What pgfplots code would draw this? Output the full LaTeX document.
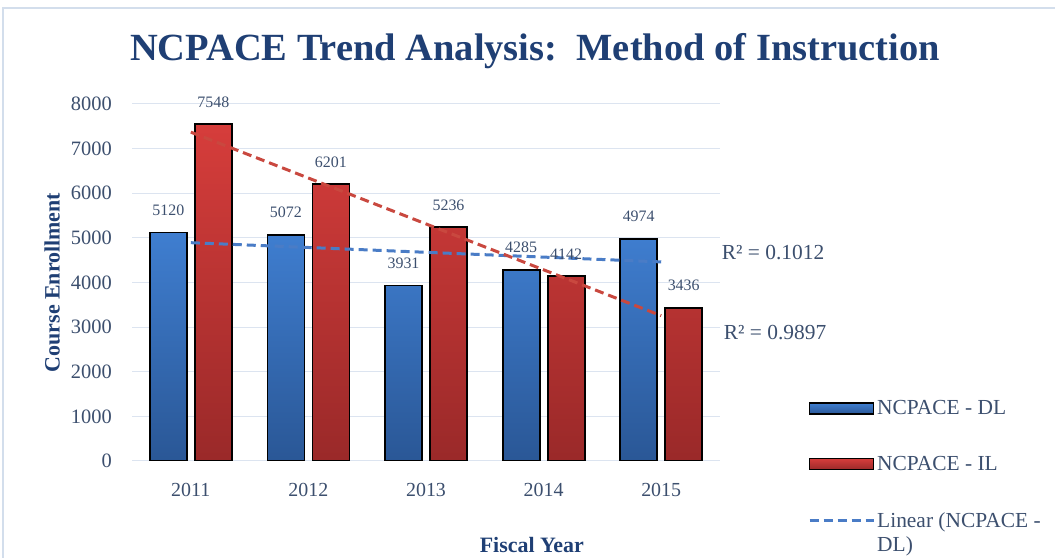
\documentclass[border=0pt]{standalone}
\usepackage{pgfplots}
\pgfplotsset{compat=1.18}
\usepackage{fontspec}
\setmainfont{Liberation Serif}
\definecolor{dlblue}{HTML}{3F7ED0}
\definecolor{dlbluedark}{HTML}{2A5796}
\definecolor{ilred}{HTML}{D63D3B}
\definecolor{ilreddark}{HTML}{9A2929}
\definecolor{trendblue}{HTML}{4A7CC6}
\definecolor{trendred}{HTML}{C9483F}
\definecolor{titlenavy}{HTML}{1F3F74}
\definecolor{labelgray}{HTML}{3C4F6E}
\definecolor{gridblue}{HTML}{DCE4F0}
\definecolor{framecol}{HTML}{D3DEEC}
\pgfplotsset{
  barlegend/.style={legend image code/.code={%
    \draw[draw=black, line width=1.3bp, fill=#1] (0bp,-5.5bp) rectangle (64bp,5.5bp);}},
  linelegend/.style={legend image code/.code={\draw[##1] (0bp,0bp) -- (64bp,0bp);}},
}

\begin{document}
\begin{tikzpicture}[x=1bp,y=1bp]
\path[use as bounding box] (0,0) rectangle (1055,558);
\draw[framecol, line width=1.5bp] (3,0) -- (3,550) -- (1055,550);
\node[font=\fontsize{38.6}{40}\selectfont\bfseries, text=titlenavy] at (535,507)
  {NCPACE Trend Analysis:\ \ Method of Instruction};
\begin{axis}[
    at={(132bp,97bp)}, anchor=south west,
    width=588bp, height=357bp, scale only axis,
    xmin=-0.5, xmax=4.5, ymin=0, ymax=8000,
    bar width=37bp,
    xtick={0,...,4}, xticklabels={2011,2012,2013,2014,2015},
    ytick={0,1000,...,8000},
    axis line style={draw=none},
    tick style={draw=none},
    ymajorgrids, grid style={gridblue, line width=1bp},
    /pgf/number format/assume math mode=true,
    /pgf/number format/1000 sep={},
    yticklabel style={font=\fontsize{20.5}{21}\selectfont, text=labelgray, inner sep=0pt, xshift=-20bp},
    xticklabel style={font=\fontsize{20}{21}\selectfont, text=labelgray, inner sep=0pt, yshift=-22bp},
    ylabel={Course Enrollment},
    ylabel style={at={(axis description cs:-0.136,0.5)}, anchor=center,
      font=\fontsize{22}{24}\selectfont\bfseries, text=titlenavy},
    xlabel={Fiscal Year},
    xlabel style={at={(axis description cs:0.680,-0.235)}, anchor=center,
      font=\fontsize{22}{24}\selectfont\bfseries, text=titlenavy},
    legend style={at={(axis description cs:1.1497,0.175)}, anchor=north west,
      draw=none, fill=none, inner sep=0pt, row sep=36bp,
      font=\fontsize{21.5}{25}\selectfont, text=labelgray,
      cells={anchor=west, align=left}},
    every node near coord/.append style={font=\fontsize{16}{17}\selectfont,
      text=labelgray, inner sep=0pt, anchor=south, yshift=16bp},
]
\addplot[ybar, bar shift=-22.5bp, draw=black, line width=1.8bp,
  top color=dlblue, bottom color=dlbluedark, barlegend=dlblue,
  nodes near coords, every node near coord/.append style={xshift=-22.5bp}]
  coordinates {(0,5120) (1,5072) (2,3931) (3,4285) (4,4974)};
\addlegendentry{NCPACE - DL}
\addplot[ybar, bar shift=22.5bp, draw=black, line width=1.8bp,
  top color=ilred, bottom color=ilreddark, barlegend=ilred!90!black,
  nodes near coords, every node near coord/.append style={xshift=22.5bp}]
  coordinates {(0,7548) (1,6201) (2,5236) (3,4142) (4,3436)};
\addlegendentry{NCPACE - IL}
% linear trend lines (least-squares end points)
\addplot[sharp plot, trendblue, line width=3bp, dash pattern=on 9bp off 5bp, linelegend]
  coordinates {(0,4892) (4,4461)};
\addlegendentry{\raisebox{1bp}[16bp][0pt]{\begin{tabular}[t]{@{}l@{}}Linear (NCPACE -\\DL)\end{tabular}}}
\addplot[sharp plot, trendred, line width=3bp, dash pattern=on 9bp off 5bp, forget plot]
  coordinates {(0,7369) (4,3256)};
\end{axis}
\node[font=\fontsize{21.5}{22}\selectfont, text=labelgray] at (773,305) {R² = 0.1012};
\node[font=\fontsize{21.5}{22}\selectfont, text=labelgray] at (775,225) {R² = 0.9897};
\end{tikzpicture}
\end{document}
